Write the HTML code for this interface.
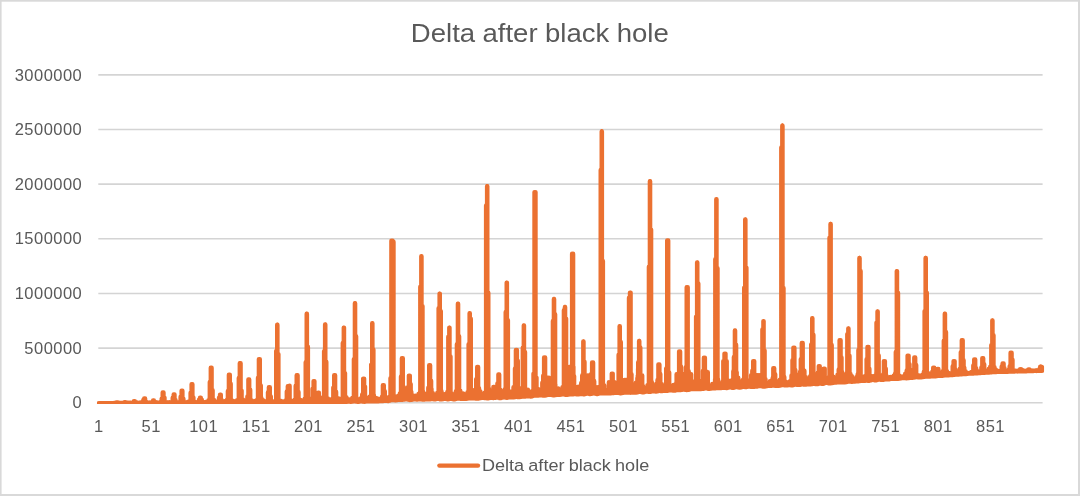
<!DOCTYPE html>
<html lang="en">
<head>
<meta charset="utf-8">
<title>Delta after black hole</title>
<style>
html,body{margin:0;padding:0;background:#fff;}
body{width:1080px;height:496px;overflow:hidden;}
svg{display:block;}
</style>
</head>
<body>
<svg width="1080" height="496" viewBox="0 0 1080 496">
<rect x="0" y="0" width="1080" height="496" fill="#ffffff"/>
<g fill="#d9d9d9"><rect x="0" y="0" width="1080" height="1.7"/><rect x="0" y="0" width="1.6" height="496"/><rect x="1078" y="0" width="2" height="496"/><rect x="0" y="494" width="1080" height="2"/></g>
<g stroke="#d4d4d4" stroke-width="1.6" fill="none">
<line x1="98.3" y1="402.75" x2="1042.6" y2="402.75"/>
<line x1="98.3" y1="348.10" x2="1042.6" y2="348.10"/>
<line x1="98.3" y1="293.45" x2="1042.6" y2="293.45"/>
<line x1="98.3" y1="238.80" x2="1042.6" y2="238.80"/>
<line x1="98.3" y1="184.15" x2="1042.6" y2="184.15"/>
<line x1="98.3" y1="129.50" x2="1042.6" y2="129.50"/>
<line x1="98.3" y1="74.85" x2="1042.6" y2="74.85"/>
</g>
<g font-family="'Liberation Sans', Arial, sans-serif" font-size="16.5" letter-spacing="0.46" fill="#595959">
<text x="82.2" y="408.40" text-anchor="end">0</text>
<text x="82.2" y="353.75" text-anchor="end">500000</text>
<text x="82.2" y="299.10" text-anchor="end">1000000</text>
<text x="82.2" y="244.45" text-anchor="end">1500000</text>
<text x="82.2" y="189.80" text-anchor="end">2000000</text>
<text x="82.2" y="135.15" text-anchor="end">2500000</text>
<text x="82.2" y="80.50" text-anchor="end">3000000</text>
<text x="98.72" y="431.9" text-anchor="middle">1</text>
<text x="151.19" y="431.9" text-anchor="middle">51</text>
<text x="203.65" y="431.9" text-anchor="middle">101</text>
<text x="256.11" y="431.9" text-anchor="middle">151</text>
<text x="308.57" y="431.9" text-anchor="middle">201</text>
<text x="361.03" y="431.9" text-anchor="middle">251</text>
<text x="413.49" y="431.9" text-anchor="middle">301</text>
<text x="465.95" y="431.9" text-anchor="middle">351</text>
<text x="518.41" y="431.9" text-anchor="middle">401</text>
<text x="570.87" y="431.9" text-anchor="middle">451</text>
<text x="623.34" y="431.9" text-anchor="middle">501</text>
<text x="675.80" y="431.9" text-anchor="middle">551</text>
<text x="728.26" y="431.9" text-anchor="middle">601</text>
<text x="780.72" y="431.9" text-anchor="middle">651</text>
<text x="833.18" y="431.9" text-anchor="middle">701</text>
<text x="885.64" y="431.9" text-anchor="middle">751</text>
<text x="938.10" y="431.9" text-anchor="middle">801</text>
<text x="990.56" y="431.9" text-anchor="middle">851</text>
</g>
<text transform="translate(410.8 41.9) scale(1 0.91)" x="0" y="0" font-family="'Liberation Sans', Arial, sans-serif" font-size="27.57" word-spacing="-0.3" fill="#595959">Delta after black hole</text>
<clipPath id="plot"><rect x="96.9" y="60" width="947.3" height="344"/></clipPath>
<polyline clip-path="url(#plot)" points="98.8,403.2 100.3,403.2 101.7,403.2 103.1,403.1 104.6,403.1 106,403.1 107.5,403.1 108.9,403.1 110.3,403.1 111.8,403.1 113.2,403.1 114.7,402.9 115.3,403.3 115.3,402.9 115.3,403.3 116.1,402.9 116.2,403.3 116.2,402.4 116.2,403.3 117.2,403.3 117.2,402.4 117.2,403.3 117.5,403.3 117.5,402.7 117.5,403.3 118.1,403.3 118.1,402.7 118.1,403.3 119,403.3 119,402.8 119,403.3 120.4,402.9 121.9,402.9 123.3,403.3 123.3,402.8 123.3,403.3 123.6,403.3 123.6,402.8 123.6,403.3 124.5,403.3 124.5,402.2 124.5,403.3 124.7,402.9 125.5,403.3 125.5,402.2 125.5,403.3 126.2,403.2 126.2,402.7 126.2,403.2 126.4,403.2 126.4,402.6 126.4,403.2 127.6,403.2 127.6,402.7 127.6,403.2 129.1,402.9 130.5,403.2 130.5,402.7 130.5,403.2 131.9,403.2 131.9,402.8 131.9,403.2 132.9,403.2 132.9,402.4 132.9,403.2 133.4,403.2 133.4,402.7 133.4,403.2 133.9,403.2 133.9,401.2 133.9,403.2 134.8,403.2 134.8,401.2 134.8,403.2 134.8,403.2 134.8,402.6 134.8,403.2 135.7,403.2 135.7,402 135.7,403.2 136.3,403.2 136.3,402.8 136.3,403.2 137.7,403.2 137.7,402.7 137.7,403.2 139.1,403.2 139.1,402.6 139.1,403.2 140.6,403.2 140.6,402.5 140.6,403.2 142,403.2 142,402.5 142,403.2 143.3,403.2 143.3,400 143.3,403.2 143.5,403.2 143.5,402.4 143.5,403.2 144.2,403.2 144.2,398.4 144.2,403.2 144.9,403.2 144.9,402.2 144.9,403.2 145.1,403.2 145.1,398.4 145.1,403.2 146.1,403.2 146.1,401.8 146.1,403.2 146.3,403.2 146.3,402.4 146.3,403.2 147.8,403.2 147.8,402.5 147.8,403.2 149.2,403.2 149.2,402.5 149.2,403.2 150.7,403.1 150.7,402.6 150.7,403.1 152.1,403.1 152.1,402 152.1,403.1 152.1,403.1 152.1,402.4 152.1,403.1 153.1,403.1 153.1,400.4 153.1,403.1 153.5,403.1 153.5,402.5 153.5,403.1 153.9,403.1 153.9,400.4 153.9,403.1 154.9,403.1 154.9,401.6 154.9,403.1 155,403.1 155,402.5 155,403.1 156.4,403.1 156.4,402.3 156.4,403.1 157.9,403.1 157.9,402.6 157.9,403.1 159.3,403.1 159.3,402.4 159.3,403.1 160.7,403.1 160.7,402.2 160.7,403.1 161.7,403.1 161.7,398.6 161.7,403.1 162.2,403.1 162.2,401.9 162.2,403.1 162.7,403.1 162.7,392.5 162.7,403.1 163.5,403.1 163.5,392.5 163.5,403.1 163.6,403.1 163.6,401.8 163.6,403.1 164.5,403.1 164.5,397.6 164.5,403.1 165.1,403.1 165.1,401.9 165.1,403.1 166.5,403.1 166.5,402.3 166.5,403.1 167.9,403.1 167.9,402.5 167.9,403.1 169.4,403.1 169.4,402.3 169.4,403.1 170.8,403.1 170.8,402.3 170.8,403.1 172.3,403.1 172.3,402.1 172.3,403.1 172.7,403.1 172.7,397.7 172.7,403.1 173.7,403 173.7,394.5 173.7,403 173.7,403 173.7,401.3 173.7,403 174.5,403 174.5,394.5 174.5,403 175.1,403 175.1,402 175.1,403 175.5,403 175.5,399.9 175.5,403 176.6,403 176.6,402.2 176.6,403 178,403 178,402.4 178,403 179.5,403 179.5,401.9 179.5,403 180.6,403 180.6,396.8 180.6,403 180.9,403 180.9,401.2 180.9,403 181.6,403 181.6,390.8 181.6,403 182.3,403 182.3,400.8 182.3,403 182.4,403 182.4,390.8 182.4,403 183.4,403 183.4,398.7 183.4,403 183.8,403 183.8,401.4 183.8,403 185.2,403 185.2,402.2 185.2,403 186.7,403 186.7,402.1 186.7,403 188.1,403 188.1,401.8 188.1,403 189.5,403 189.5,401.3 189.5,403 190.6,403 190.6,392.8 190.6,403 191,403 191,400.2 191,403 191.6,403 191.6,384.2 191.6,403 192.4,403 192.4,400.8 192.4,403 192.4,403 192.4,384.2 192.4,403 193.4,403 193.4,397.4 193.4,403 193.9,403 193.9,401.3 193.9,403 195.3,403 195.3,401.9 195.3,403 196.7,403 196.7,402.4 196.7,403 198.2,402.9 198.2,402.3 198.2,402.9 199,402.9 199,399.7 199,402.9 199.6,402.9 199.6,402 199.6,402.9 200,402.9 200,397.8 200,402.9 200.8,402.9 200.8,397.8 200.8,402.9 201.1,402.9 201.1,402.2 201.1,402.9 201.8,402.9 201.8,399.7 201.8,402.9 202.5,402.9 202.5,402.3 202.5,402.9 203.9,402.9 203.9,402.4 203.9,402.9 205.4,402.9 205.4,401.9 205.4,402.9 206.8,402.9 206.8,401.9 206.8,402.9 208.3,402.9 208.3,400.4 208.3,402.9 209.7,402.9 209.7,397.8 209.7,402.9 209.8,402.9 209.8,382 209.8,402.9 210.8,402.9 210.8,367.8 210.8,402.9 211.1,402.9 211.1,399 211.1,402.9 211.6,402.9 211.6,367.8 211.6,402.9 212.6,402.9 212.6,398.5 212.6,402.9 212.6,402.9 212.6,390.2 212.6,402.9 214,402.9 214,399.9 214,402.9 215.5,402.9 215.5,401.4 215.5,402.9 216.9,402.9 216.9,401.8 216.9,402.9 218.3,402.9 218.3,402 218.3,402.9 219,402.9 219,397.8 219,402.9 219.8,402.9 219.8,401.4 219.8,402.9 220,402.9 220,394.8 220,402.9 220.8,402.8 220.8,394.8 220.8,402.8 221.2,402.8 221.2,401.4 221.2,402.8 221.8,402.8 221.8,400.1 221.8,402.8 222.7,402.8 222.7,402 222.7,402.8 224.1,402.8 224.1,401.7 224.1,402.8 225.5,402.8 225.5,401 225.5,402.8 227,402.8 227,399.7 227,402.8 227.9,402.8 227.9,391 227.9,402.8 228.4,402.8 228.4,398.9 228.4,402.8 228.9,402.8 228.9,374.8 228.9,402.8 229.8,402.8 229.8,374.8 229.8,402.8 229.9,402.8 229.9,399.9 229.9,402.8 230.7,402.8 230.7,383.7 230.7,402.8 231.3,402.8 231.3,400.2 231.3,402.8 232.7,402.8 232.7,400.8 232.7,402.8 234.2,402.8 234.2,401.5 234.2,402.8 235.6,402.8 235.6,401.2 235.6,402.8 237.1,402.8 237.1,400.2 237.1,402.8 238.5,402.8 238.5,399.1 238.5,402.8 238.8,402.8 238.8,377.9 238.8,402.8 239.8,402.8 239.8,363.3 239.8,402.8 239.9,402.8 239.9,397.8 239.9,402.8 240.6,402.8 240.6,363.3 240.6,402.8 241.4,402.8 241.4,396.4 241.4,402.8 241.6,402.8 241.6,390.6 241.6,402.8 242.8,402.8 242.8,399.4 242.8,402.8 244.3,402.8 244.3,400.6 244.3,402.8 245.7,402.7 245.7,400.5 245.7,402.7 247.1,402.7 247.1,399.6 247.1,402.7 247.4,402.7 247.4,396.5 247.4,402.7 248.4,402.7 248.4,379.5 248.4,402.7 248.6,402.7 248.6,399.8 248.6,402.7 249.2,402.7 249.2,379.5 249.2,402.7 250,402.7 250,400 250,402.7 250.2,402.7 250.2,389.8 250.2,402.7 251.5,402.7 251.5,400.1 251.5,402.7 252.9,402.7 252.9,401.7 252.9,402.7 254.3,402.7 254.3,401.2 254.3,402.7 255.8,402.7 255.8,400.8 255.8,402.7 257.2,402.7 257.2,399.6 257.2,402.7 258,402.7 258,377.7 258,402.7 258.7,402.7 258.7,395.9 258.7,402.7 258.9,402.7 258.9,359.1 258.9,402.7 259.8,402.7 259.8,359.1 259.8,402.7 260.1,402.7 260.1,395.8 260.1,402.7 260.8,402.7 260.8,385.4 260.8,402.7 261.5,402.7 261.5,398.2 261.5,402.7 263,402.7 263,400.2 263,402.7 264.4,402.7 264.4,401.9 264.4,402.7 265.9,402.7 265.9,401.1 265.9,402.7 267.3,402.7 267.3,400.6 267.3,402.7 268,402.7 268,392.3 268,402.7 268.7,402.7 268.7,399.8 268.7,402.7 268.9,402.7 268.9,387.3 268.9,402.7 269.8,402.6 269.8,387.3 269.8,402.6 270.2,402.6 270.2,400.8 270.2,402.6 270.8,402.6 270.8,396.5 270.8,402.6 271.6,402.6 271.6,401.2 271.6,402.6 273.1,402.6 273.1,401.6 273.1,402.6 274.5,402.6 274.5,401.1 274.5,402.6 275.9,402.6 275.9,399.9 275.9,402.6 276.2,402.6 276.2,351 276.2,402.6 277.2,402.6 277.2,324.8 277.2,402.6 277.4,402.6 277.4,398.5 277.4,402.6 277.4,402.6 277.4,324.8 277.4,402.6 278.4,402.6 278.4,354.1 278.4,402.6 278.8,402.6 278.8,399.8 278.8,402.6 280.3,402.6 280.3,400.6 280.3,402.6 281.7,402.6 281.7,401.3 281.7,402.6 283.1,402.5 283.1,401.9 283.1,402.5 284.6,402.5 284.6,401.3 284.6,402.5 286,402.5 286,400.3 286,402.5 286.8,402.5 286.8,391.5 286.8,402.5 287.5,402.5 287.5,399.9 287.5,402.5 287.8,402.5 287.8,386.3 287.8,402.5 288.6,402.5 288.6,386.3 288.6,402.5 288.9,402.4 288.9,399.7 288.9,402.4 289.6,402.4 289.6,385.7 289.6,402.4 290.3,402.4 290.3,400.5 290.3,402.4 291.8,402.5 291.8,401 291.8,402.5 293.2,402.4 293.2,400.7 293.2,402.4 294.7,402.3 294.7,399.8 294.7,402.3 295.7,402.3 295.7,385.7 295.7,402.3 296.1,402.3 296.1,397.9 296.1,402.3 296.7,402.4 296.7,375.3 296.7,402.4 297.5,402.4 297.5,396.5 297.5,402.4 297.6,402.4 297.6,375.3 297.6,402.4 298.5,402.5 298.5,391.9 298.5,402.5 299,402.4 299,398.8 299,402.4 300.4,402.3 300.4,400 300.4,402.3 301.9,402.1 301.9,400.9 301.9,402.1 303.3,402.2 303.3,400.4 303.3,402.2 304.7,402.3 304.7,398.6 304.7,402.3 305.7,402.3 305.7,362.3 305.7,402.3 306.2,402.3 306.2,396.4 306.2,402.3 306.7,402.3 306.7,313.7 306.7,402.3 306.9,402.2 306.9,313.7 306.9,402.2 307.6,402.2 307.6,397.7 307.6,402.2 307.9,402.2 307.9,346.7 307.9,402.2 309.1,402.2 309.1,398.4 309.1,402.2 310.5,402.3 310.5,400.4 310.5,402.3 311.9,402.3 311.9,399.9 311.9,402.3 312.6,402.2 312.6,388.7 312.6,402.2 313.4,402.1 313.4,397.1 313.4,402.1 313.6,402.1 313.6,381.1 313.6,402.1 314.4,402 314.4,381.1 314.4,402 314.8,401.9 314.8,398.9 314.8,401.9 315.4,401.9 315.4,396.3 315.4,401.9 316.3,402 316.3,399.8 316.3,402 317.1,402.1 317.1,399.5 317.1,402.1 317.7,402.1 317.7,399.6 317.7,402.1 318.1,402.1 318.1,392.8 318.1,402.1 318.9,402.1 318.9,392.8 318.9,402.1 319.1,402.1 319.1,400 319.1,402.1 319.9,402.1 319.9,397.2 319.9,402.1 320.6,402.1 320.6,399.7 320.6,402.1 322,402.1 322,399.8 322,402.1 323.5,402 323.5,397.5 323.5,402 324.1,401.9 324.1,351.2 324.1,401.9 324.9,401.9 324.9,396.3 324.9,401.9 325.1,401.9 325.1,324.4 325.1,401.9 325.3,401.9 325.3,324.4 325.3,401.9 326.3,401.8 326.3,361.7 326.3,401.8 326.3,401.8 326.3,398.7 326.3,401.8 327.8,401.9 327.8,398.5 327.8,401.9 329.2,401.9 329.2,400.2 329.2,401.9 330.7,401.9 330.7,399.5 330.7,401.9 332.1,401.9 332.1,399.1 332.1,401.9 333.3,402 333.3,387.6 333.3,402 333.5,402 333.5,398 333.5,402 334.2,402 334.2,375.3 334.2,402 335,401.9 335,396.2 335,401.9 335.1,401.9 335.1,375.3 335.1,401.9 336.1,401.8 336.1,391.8 336.1,401.8 336.4,401.8 336.4,397.2 336.4,401.8 337.9,401.7 337.9,398.1 337.9,401.7 339.3,401.6 339.3,400.3 339.3,401.6 340.7,401.7 340.7,398.6 340.7,401.7 342.2,401.8 342.2,398.5 342.2,401.8 342.8,401.8 342.8,342.9 342.8,401.8 343.6,401.8 343.6,395.8 343.6,401.8 343.8,401.8 343.8,327.6 343.8,401.8 344,401.8 344,327.6 344,401.8 345,401.8 345,373.1 345,401.8 345.1,401.8 345.1,395 345.1,401.8 346.5,401.7 346.5,397.4 346.5,401.7 347.9,401.5 347.9,399.3 347.9,401.5 349.4,401.6 349.4,400.6 349.4,401.6 350.8,401.7 350.8,399.1 350.8,401.7 352.3,401.6 352.3,398 352.3,401.6 353.7,401.4 353.7,397.1 353.7,401.4 353.9,401.4 353.9,359.1 353.9,401.4 354.9,401.4 354.9,303.2 354.9,401.4 355.1,401.4 355.1,303.2 355.1,401.4 355.1,401.4 355.1,394.7 355.1,401.4 356.1,401.5 356.1,336.2 356.1,401.5 356.6,401.6 356.6,397.8 356.6,401.6 358,401.8 358,399.2 358,401.8 359.5,401.5 359.5,399.8 359.5,401.5 360.9,401.2 360.9,398.3 360.9,401.2 362.2,401.3 362.2,394.4 362.2,401.3 362.3,401.4 362.3,397.1 362.3,401.4 363.2,401.5 363.2,378.6 363.2,401.5 363.8,401.6 363.8,396.7 363.8,401.6 364.1,401.7 364.1,378.6 364.1,401.7 365,401.6 365,386.6 365,401.6 365.2,401.6 365.2,397.9 365.2,401.6 366.7,401.2 366.7,398 366.7,401.2 368.1,401.1 368.1,399 368.1,401.1 369.5,401.3 369.5,396.8 369.5,401.3 371,401.4 371,395.6 371,401.4 371.2,401.4 371.2,364.6 371.2,401.4 372.2,401.3 372.2,323.2 372.2,401.3 372.4,401.3 372.4,323.2 372.4,401.3 372.4,401.3 372.4,394.4 372.4,401.3 373.4,401.3 373.4,349.4 373.4,401.3 373.9,401.3 373.9,395.1 373.9,401.3 375.3,401.4 375.3,398 375.3,401.4 376.7,401.4 376.7,398.3 376.7,401.4 378.2,401.2 378.2,398.7 378.2,401.2 379.6,401 379.6,399.2 379.6,401 381.1,401 381.1,398.7 381.1,401 382,401.1 382,396.6 382,401.1 382.5,401 382.5,395.8 382.5,401 382.9,401 382.9,385.3 382.9,401 383.8,400.9 383.8,385.3 383.8,400.9 383.9,400.9 383.9,397.1 383.9,400.9 384.8,400.7 384.8,391.2 384.8,400.7 385.4,400.7 385.4,396.5 385.4,400.7 386.8,400.9 386.8,397.5 386.8,400.9 388.3,401 388.3,398.2 388.3,401 389.7,400.6 389.7,396.7 389.7,400.6 390.5,400.3 390.5,378.1 390.5,400.3 391.1,400 391.1,394.4 391.1,400 391.4,400 391.4,240.7 391.4,400 392.6,399.9 392.6,240.7 392.6,399.9 392.6,399.9 392.6,390.5 392.6,399.9 393.5,400 393.5,241.7 393.5,400 394,400.1 394,395.7 394,400.1 395.5,400.2 395.5,396.4 395.5,400.2 396.9,400.1 396.9,397.8 396.9,400.1 398.3,399.9 398.3,395.9 398.3,399.9 399.8,399.8 399.8,393.5 399.8,399.8 401,399.9 401,376.4 401,399.9 401.2,399.8 401.2,391.8 401.2,399.8 401.9,399.8 401.9,358.2 401.9,399.8 402.7,399.7 402.7,389.4 402.7,399.7 402.8,399.7 402.8,358.2 402.8,399.7 403.8,399.5 403.8,387.1 403.8,399.5 404.1,399.5 404.1,392.4 404.1,399.5 405.5,399.3 405.5,393.9 405.5,399.3 407,399.4 407,393.4 407,399.4 407.9,399.5 407.9,387.1 407.9,399.5 408.4,399.6 408.4,390.8 408.4,399.6 408.9,399.7 408.9,375.6 408.9,399.7 409.8,399.8 409.8,375.6 409.8,399.8 409.9,399.9 409.9,391.9 409.9,399.9 410.7,399.9 410.7,384.1 410.7,399.9 411.3,399.8 411.3,391.7 411.3,399.8 412.7,399.5 412.7,395.4 412.7,399.5 414.2,399.2 414.2,396.4 414.2,399.2 415.6,399.3 415.6,395.8 415.6,399.3 417.1,399.5 417.1,395.6 417.1,399.5 418.5,399.4 418.5,394 418.5,399.4 419.9,399.2 419.9,392.3 419.9,399.2 420.3,399.2 420.3,286.8 420.3,399.2 421.3,399.3 421.3,256.2 421.3,399.3 421.4,399.3 421.4,387.9 421.4,399.3 421.5,399.3 421.5,256.2 421.5,399.3 422.5,399.5 422.5,306.1 422.5,399.5 422.8,399.5 422.8,390.7 422.8,399.5 424.3,399.5 424.3,393.5 424.3,399.5 425.7,399.2 425.7,395.8 425.7,399.2 427.1,399.1 427.1,393.5 427.1,399.1 428.3,399.2 428.3,387.8 428.3,399.2 428.6,399.2 428.6,391 428.6,399.2 429.2,399.2 429.2,365.3 429.2,399.2 430,399.2 430,385.5 430,399.2 430.1,399.2 430.1,365.3 430.1,399.2 431.1,399.1 431.1,380.7 431.1,399.1 431.5,399.1 431.5,388.8 431.5,399.1 432.9,399.1 432.9,393.2 432.9,399.1 434.3,399.3 434.3,396.3 434.3,399.3 435.8,399.2 435.8,395.3 435.8,399.2 437.2,398.9 437.2,392.9 437.2,398.9 438.6,398.9 438.6,308.3 438.6,398.9 438.7,398.9 438.7,389.6 438.7,398.9 439.6,399.1 439.6,293.6 439.6,399.1 439.8,399.2 439.8,293.6 439.8,399.2 440.1,399.3 440.1,392.3 440.1,399.3 440.8,399.4 440.8,311.1 440.8,399.4 441.5,399.4 441.5,391.2 441.5,399.4 443,399.1 443,394.2 443,399.1 444.4,398.7 444.4,394.2 444.4,398.7 445.9,398.8 445.9,394.7 445.9,398.8 447.3,399.2 447.3,392 447.3,399.2 448.3,399.2 448.3,336.7 448.3,399.2 448.7,399.1 448.7,392.3 448.7,399.1 449.3,399 449.3,327.6 449.3,399 449.5,398.9 449.5,327.6 449.5,398.9 450.2,398.8 450.2,391.4 450.2,398.8 450.5,398.7 450.5,356.4 450.5,398.7 451.6,398.8 451.6,393.4 451.6,398.8 453.1,399.2 453.1,395.3 453.1,399.2 454.5,399.3 454.5,394.4 454.5,399.3 455.9,398.9 455.9,391.3 455.9,398.9 456.9,398.6 456.9,344.3 456.9,398.6 457.4,398.5 457.4,389.2 457.4,398.5 457.9,398.4 457.9,303.7 457.9,398.4 458.1,398.4 458.1,303.7 458.1,398.4 458.8,398.5 458.8,389.9 458.8,398.5 459.1,398.5 459.1,336.3 459.1,398.5 460.3,398.7 460.3,390.8 460.3,398.7 461.7,398.8 461.7,394 461.7,398.8 463.1,398.8 463.1,393.4 463.1,398.8 464.6,398.8 464.6,396.8 464.6,398.8 466,398.8 466,394.2 466,398.8 467.5,398.6 467.5,392.3 467.5,398.6 468.6,398.4 468.6,344.3 468.6,398.4 468.9,398.4 468.9,391.1 468.9,398.4 469.6,398.3 469.6,313.2 469.6,398.3 469.8,398.3 469.8,313.2 469.8,398.3 470.3,398.3 470.3,390.8 470.3,398.3 470.8,398.3 470.8,318.7 470.8,398.3 471.8,398.3 471.8,393.3 471.8,398.3 473.2,398.3 473.2,393.3 473.2,398.3 474.7,398.3 474.7,389.9 474.7,398.3 476.1,398.5 476.1,389.7 476.1,398.5 476.2,398.5 476.2,379.1 476.2,398.5 477.2,398.6 477.2,366.9 477.2,398.6 477.5,398.6 477.5,384.3 477.5,398.6 478.1,398.6 478.1,366.9 478.1,398.6 479,398.4 479,391 479,398.4 479,398.4 479,388.1 479,398.4 480.4,398.1 480.4,391.4 480.4,398.1 481.9,397.9 481.9,395 481.9,397.9 483.3,397.9 483.3,394.7 483.3,397.9 484.7,398 484.7,392.6 484.7,398 486.1,398.1 486.1,205.4 486.1,398.1 486.2,398.1 486.2,387.4 486.2,398.1 487.1,398.2 487.1,186.3 487.1,398.2 487.3,398.2 487.3,186.3 487.3,398.2 487.6,398.2 487.6,385.4 487.6,398.2 488.3,398.2 488.3,292.7 488.3,398.2 489.1,398.1 489.1,389 489.1,398.1 490.5,397.9 490.5,393.9 490.5,397.9 491.9,397.9 491.9,393.3 491.9,397.9 492.4,397.9 492.4,394.5 492.4,397.9 493.4,398 493.4,387 493.4,398 493.4,398 493.4,394.6 493.4,398 494.2,397.9 494.2,387 494.2,397.9 494.8,397.8 494.8,392.9 494.8,397.8 495.2,397.8 495.2,391 495.2,397.8 496.3,397.5 496.3,391.5 496.3,397.5 497.4,397.5 497.4,383.5 497.4,397.5 497.7,397.5 497.7,390 497.7,397.5 498.4,397.6 498.4,374.5 498.4,397.6 499.1,397.9 499.1,385.3 499.1,397.9 499.2,397.9 499.2,374.5 499.2,397.9 500.2,398.1 500.2,390.6 500.2,398.1 500.6,398.1 500.6,389.9 500.6,398.1 502,397.7 502,391.3 502,397.7 503.5,397.3 503.5,392.1 503.5,397.3 504.9,397.3 504.9,389.2 504.9,397.3 505.7,397.5 505.7,311.9 505.7,397.5 506.3,397.6 506.3,389 506.3,397.6 506.7,397.7 506.7,282.6 506.7,397.7 506.9,397.7 506.9,282.6 506.9,397.7 507.8,397.6 507.8,386.1 507.8,397.6 507.9,397.6 507.9,320.2 507.9,397.6 509.2,397.2 509.2,391.3 509.2,397.2 510.7,397 510.7,393.4 510.7,397 512.1,397.2 512.1,391.5 512.1,397.2 513.5,397.3 513.5,387.3 513.5,397.3 515,397 515,382.9 515,397 515,397 515,368.4 515,397 515.9,396.8 515.9,349.9 515.9,396.8 516.4,396.8 516.4,382.8 516.4,396.8 516.9,396.8 516.9,349.9 516.9,396.8 517.8,397 517.8,360.8 517.8,397 517.9,397 517.9,386.1 517.9,397 519.3,397.1 519.3,388.2 519.3,397.1 520.7,396.8 520.7,390.2 520.7,396.8 522.2,396.5 522.2,390.7 522.2,396.5 522.8,396.5 522.8,347.8 522.8,396.5 523.6,396.5 523.6,387.4 523.6,396.5 523.8,396.5 523.8,325.4 523.8,396.5 524,396.5 524,325.4 524,396.5 525,396.5 525,352 525,396.5 525.1,396.5 525.1,389.4 525.1,396.5 526.5,396.2 526.5,390.4 526.5,396.2 527.9,396 527.9,389.7 527.9,396 529.4,396.2 529.4,391.9 529.4,396.2 530.8,396.5 530.8,391.8 530.8,396.5 532.3,396.2 532.3,391 532.3,396.2 533.5,395.7 533.5,373.6 533.5,395.7 533.7,395.7 533.7,388.8 533.7,395.7 534.5,395.5 534.5,192.1 534.5,395.5 535.1,395.4 535.1,387.9 535.1,395.4 535.5,395.4 535.5,192.1 535.5,395.4 536.5,395.5 536.5,377.6 536.5,395.5 536.6,395.5 536.6,387.3 536.6,395.5 538,395.6 538,389 538,395.6 539.5,395.4 539.5,391.8 539.5,395.4 540.9,395.3 540.9,389.8 540.9,395.3 542.3,395.4 542.3,382.8 542.3,395.4 543.2,395.6 543.2,375.8 543.2,395.6 543.3,395.6 543.3,377.8 543.3,395.6 543.8,395.6 543.8,385.2 543.8,395.6 544.1,395.6 544.1,357.4 544.1,395.6 544.4,395.6 544.4,377.8 544.4,395.6 545.1,395.5 545.1,357.4 545.1,395.5 545.2,395.5 545.2,377.9 545.2,395.5 545.5,395.4 545.5,377.8 545.5,395.4 546,395.3 546,384.5 546,395.3 546.7,395.1 546.7,377.8 546.7,395.1 546.7,395.1 546.7,384.6 546.7,395.1 547.8,394.9 547.8,377.8 547.8,394.9 548.1,394.8 548.1,389.8 548.1,394.8 548.9,394.7 548.9,377.8 548.9,394.7 549.5,394.8 549.5,390.8 549.5,394.8 551,394.9 551,388.4 551,394.9 552.4,395.1 552.4,389.2 552.4,395.1 552.9,395.2 552.9,320.9 552.9,395.2 553.9,395.2 553.9,384.3 553.9,395.2 553.9,395.2 553.9,299 553.9,395.2 554.1,395.2 554.1,299 554.1,395.2 555.1,395.1 555.1,314.2 555.1,395.1 555.3,395 555.3,384.3 555.3,395 556.7,394.8 556.7,388.8 556.7,394.8 558.2,394.7 558.2,388.5 558.2,394.7 559.6,394.8 559.6,389.5 559.6,394.8 561.1,394.6 561.1,390.9 561.1,394.6 562.5,394.4 562.5,387.1 562.5,394.4 563.9,394.4 563.9,310.2 563.9,394.4 563.9,394.4 563.9,387 563.9,394.4 564.9,394.6 564.9,307 564.9,394.6 565.1,394.6 565.1,307 565.1,394.6 565.4,394.7 565.4,386.2 565.4,394.7 566.1,394.8 566.1,318.6 566.1,394.8 566.8,394.8 566.8,386.3 566.8,394.8 568.3,394.5 568.3,391.2 568.3,394.5 569.7,394.3 569.7,388.9 569.7,394.3 570,394.3 570,366.6 570,394.3 571.1,394.3 571.1,366.6 571.1,394.3 571.1,394.3 571.1,388.8 571.1,394.3 571.1,394.3 571.1,372.1 571.1,394.3 572.1,394.3 572.1,253.8 572.1,394.3 572.3,394.3 572.3,366.6 572.3,394.3 572.6,394.3 572.6,383.9 572.6,394.3 573.1,394.2 573.1,253.8 573.1,394.2 573.4,394.2 573.4,366.6 573.4,394.2 574,394.1 574,385.5 574,394.1 574.1,394.1 574.1,376.1 574.1,394.1 575.5,394.1 575.5,387.1 575.5,394.1 576.9,394.3 576.9,390.5 576.9,394.3 578.3,394.3 578.3,386.6 578.3,394.3 579.8,394 579.8,387.9 579.8,394 581.2,393.8 581.2,382.9 581.2,393.8 582.2,394 582.2,375.5 582.2,394 582.3,394 582.3,375.2 582.3,394 582.7,394.1 582.7,379 582.7,394.1 583.3,394.2 583.3,341.5 583.3,394.2 583.3,394.2 583.3,375.5 583.3,394.2 583.5,394.2 583.5,341.5 583.5,394.2 584.1,394.2 584.1,376.3 584.1,394.2 584.4,394.2 584.4,375.5 584.4,394.2 584.5,394.2 584.5,361.8 584.5,394.2 585.5,393.9 585.5,375.5 585.5,393.9 585.5,393.9 585.5,384.7 585.5,393.9 586.6,393.6 586.6,375.5 586.6,393.6 587,393.5 587,388 587,393.5 587.8,393.5 587.8,375.5 587.8,393.5 588.4,393.6 588.4,389.2 588.4,393.6 588.9,393.8 588.9,375.5 588.9,393.8 589.9,394 589.9,385.1 589.9,394 590,394 590,375.5 590,394 591.1,393.9 591.1,375.5 591.1,393.9 591.2,393.9 591.2,374 591.2,393.9 591.3,393.9 591.3,382.8 591.3,393.9 592.1,393.6 592.1,362.4 592.1,393.6 592.2,393.6 592.2,375.5 592.2,393.6 592.7,393.4 592.7,375.6 592.7,393.4 593.1,393.3 593.1,362.4 593.1,393.3 594,393.3 594,380.6 594,393.3 594.2,393.3 594.2,381.3 594.2,393.3 595.6,393.7 595.6,388.3 595.6,393.7 597.1,394 597.1,387.2 597.1,394 598.5,393.7 598.5,388.6 598.5,393.7 599.9,393.2 599.9,386.7 599.9,393.2 600.7,393.2 600.7,169.9 600.7,393.2 601.4,393.2 601.4,380.6 601.4,393.2 601.7,393.2 601.7,131.5 601.7,393.2 601.9,393.2 601.9,131.5 601.9,393.2 602.8,393.3 602.8,385.2 602.8,393.3 602.9,393.3 602.9,260.9 602.9,393.3 604.3,393.3 604.3,385.5 604.3,393.3 605.7,393.2 605.7,390.2 605.7,393.2 607.1,393.3 607.1,390.6 607.1,393.3 608.6,393.4 608.6,388.8 608.6,393.4 608.9,393.4 608.9,382.2 608.9,393.4 610,393.4 610,382.2 610,393.4 610,393.4 610,386.3 610,393.4 610.8,393.2 610.8,382.1 610.8,393.2 611.1,393.2 611.1,382.2 611.1,393.2 611.5,393.1 611.5,383.2 611.5,393.1 611.8,393.1 611.8,373.6 611.8,393.1 612.3,393 612.3,382.2 612.3,393 612.7,393 612.7,373.6 612.7,393 612.9,393 612.9,386.9 612.9,393 613.4,393 613.4,382.2 613.4,393 613.6,393 613.6,384.8 613.6,393 614.3,392.9 614.3,386 614.3,392.9 614.5,392.9 614.5,382.2 614.5,392.9 615.8,392.8 615.8,389.4 615.8,392.8 617.2,392.7 617.2,387.6 617.2,392.7 618.6,392.9 618.6,354.8 618.6,392.9 618.7,392.9 618.7,387 618.7,392.9 619.6,393.1 619.6,326.3 619.6,393.1 619.8,393.1 619.8,326.3 619.8,393.1 620.1,393.2 620.1,383.9 620.1,393.2 620.8,393.2 620.8,342 620.8,393.2 621.5,393.1 621.5,385.7 621.5,393.1 623,392.8 623,385.6 623,392.8 624.4,392.6 624.4,380 624.4,392.6 624.4,392.6 624.4,388.6 624.4,392.6 625.5,392.5 625.5,380 625.5,392.5 625.9,392.5 625.9,386.3 625.9,392.5 626.7,392.5 626.7,380 626.7,392.5 627.3,392.5 627.3,387.7 627.3,392.5 628.7,392.5 628.7,382.8 628.7,392.5 629,392.5 629,297.7 629,392.5 630,392.5 630,292.6 630,392.5 630.2,392.6 630.2,383 630.2,392.6 630.6,392.6 630.6,292.6 630.6,392.6 631.5,392.6 631.5,374.3 631.5,392.6 631.6,392.6 631.6,385.8 631.6,392.6 633.1,392.6 633.1,386 633.1,392.6 634.5,392.6 634.5,386.4 634.5,392.6 635.9,392.5 635.9,382.7 635.9,392.5 637.4,392.3 637.4,378 637.4,392.3 637.8,392.2 637.8,375.5 637.8,392.2 638.1,392.1 638.1,368.8 638.1,392.1 638.2,392 638.2,362.2 638.2,392 638.8,391.9 638.8,377 638.8,391.9 638.9,391.9 638.9,375.5 638.9,391.9 639,391.9 639,362.2 639,391.9 639.1,391.8 639.1,341 639.1,391.8 639.3,391.8 639.3,341 639.3,391.8 639.8,391.8 639.8,362.2 639.8,391.8 640,391.8 640,375.5 640,391.8 640.3,391.8 640.3,373 640.3,391.8 640.3,391.8 640.3,347.4 640.3,391.8 641.1,391.9 641.1,375.5 641.1,391.9 641.7,392.1 641.7,383.6 641.7,392.1 642.2,392.2 642.2,375.5 642.2,392.2 643.1,392.3 643.1,386.2 643.1,392.3 644.6,392 644.6,388.3 644.6,392 646,391.6 646,388.2 646,391.6 647.5,391.6 647.5,385.1 647.5,391.6 648.9,391.8 648.9,384.9 648.9,391.8 648.9,391.8 648.9,266.8 648.9,391.8 649.9,391.8 649.9,181.2 649.9,391.8 650.1,391.8 650.1,181.2 650.1,391.8 650.3,391.8 650.3,381.7 650.3,391.8 651.1,391.6 651.1,229.6 651.1,391.6 651.8,391.3 651.8,382 651.8,391.3 653.2,391.1 653.2,387.4 653.2,391.1 654.7,391.3 654.7,387.1 654.7,391.3 656.1,391.5 656.1,384 656.1,391.5 656.6,391.4 656.6,384.4 656.6,391.4 657.5,391.2 657.5,380.4 657.5,391.2 657.5,391.2 657.5,380 657.5,391.2 657.7,391.1 657.7,384.4 657.7,391.1 658.4,391 658.4,364.4 658.4,391 658.9,390.9 658.9,384.4 658.9,390.9 659,390.9 659,378.3 659,390.9 659.4,390.9 659.4,364.4 659.4,390.9 660,390.9 660,384.4 660,390.9 660.3,390.9 660.3,373.9 660.3,390.9 660.4,391 660.4,383.2 660.4,391 661.9,391.1 661.9,384.2 661.9,391.1 663.3,390.9 663.3,388.2 663.3,390.9 664.7,390.7 664.7,387.1 664.7,390.7 666.2,390.7 666.2,382.6 666.2,390.7 666.2,390.7 666.2,368.4 666.2,390.7 667.2,390.7 667.2,240.5 667.2,390.7 667.6,390.7 667.6,376.7 667.6,390.7 668.2,390.6 668.2,240.5 668.2,390.6 669.1,390.4 669.1,379.9 669.1,390.4 669.2,390.4 669.2,372.4 669.2,390.4 670.5,390.1 670.5,386.5 670.5,390.1 671.9,390.3 671.9,387.8 671.9,390.3 673.4,390.6 673.4,385 673.4,390.6 674.8,390.6 674.8,386.1 674.8,390.6 676.3,390.1 676.3,382.6 676.3,390.1 676.6,390 676.6,374.2 676.6,390 677.7,389.8 677.7,376.7 677.7,389.8 677.7,389.8 677.7,374.2 677.7,389.8 678.2,389.9 678.2,379.7 678.2,389.9 678.8,389.9 678.8,374.2 678.8,389.9 679.1,390 679.1,372.3 679.1,390 679.1,390 679.1,351.5 679.1,390 679.9,390 679.9,374.2 679.9,390 680.1,390 680.1,351.5 680.1,390 680.6,390 680.6,372.4 680.6,390 681,389.9 681,366.4 681,389.9 681.1,389.9 681.1,374.2 681.1,389.9 682,389.7 682,379.6 682,389.7 682.2,389.6 682.2,374.2 682.2,389.6 683.3,389.4 683.3,374.2 683.3,389.4 683.5,389.4 683.5,383.6 683.5,389.4 684.4,389.5 684.4,374.2 684.4,389.5 684.9,389.6 684.9,384.4 684.9,389.6 685.5,389.8 685.5,374.2 685.5,389.8 685.8,389.8 685.8,367.3 685.8,389.8 686.3,389.9 686.3,378.2 686.3,389.9 686.6,390 686.6,374.2 686.6,390 686.7,390 686.7,287.3 686.7,390 687.7,389.9 687.7,287.3 687.7,389.9 687.8,389.9 687.8,374.2 687.8,389.9 687.8,389.9 687.8,381 687.8,389.9 688.7,389.7 688.7,371.3 688.7,389.7 688.9,389.6 688.9,374.2 688.9,389.6 689.2,389.5 689.2,380.4 689.2,389.5 690,389.3 690,374.2 690,389.3 690.7,389.1 690.7,385.1 690.7,389.1 691.1,389.1 691.1,374.2 691.1,389.1 692.1,389 692.1,383.8 692.1,389 693.5,389 693.5,382.9 693.5,389 695,389.1 695,381.3 695,389.1 696.1,389.1 696.1,316.7 696.1,389.1 696.4,389.1 696.4,377.3 696.4,389.1 697.1,389.1 697.1,262.5 697.1,389.1 697.3,389.1 697.3,262.5 697.3,389.1 697.9,389.1 697.9,380.8 697.9,389.1 698.3,389.1 698.3,283.5 698.3,389.1 699.3,389 699.3,383.6 699.3,389 700.7,389 700.7,382.7 700.7,389 702.2,388.9 702.2,380.6 702.2,388.9 703,388.8 703,370.7 703,388.8 703.3,388.8 703.3,372.2 703.3,388.8 703.6,388.7 703.6,374.4 703.6,388.7 703.9,388.6 703.9,357.7 703.9,388.6 704.4,388.5 704.4,372.2 704.4,388.5 704.9,388.4 704.9,357.7 704.9,388.4 705.1,388.4 705.1,379.5 705.1,388.4 705.5,388.3 705.5,372.2 705.5,388.3 705.8,388.3 705.8,371.2 705.8,388.3 706.5,388.3 706.5,379.2 706.5,388.3 706.7,388.3 706.7,372.2 706.7,388.3 707.8,388.5 707.8,372.2 707.8,388.5 707.9,388.6 707.9,383.9 707.9,388.6 709.4,388.7 709.4,386 709.4,388.7 710.8,388.6 710.8,385.4 710.8,388.6 712.3,388.4 712.3,384 712.3,388.4 713.7,388.3 713.7,384.5 713.7,388.3 715.1,388.2 715.1,379 715.1,388.2 715.3,388.2 715.3,259.2 715.3,388.2 716.3,388.1 716.3,199.2 716.3,388.1 716.5,388.1 716.5,199.2 716.5,388.1 716.6,388 716.6,379.1 716.6,388 717.5,388 717.5,268.2 717.5,388 718,388 718,379.1 718,388 719.5,388.1 719.5,384 719.5,388.1 720.9,388.1 720.9,383.8 720.9,388.1 722.3,387.9 722.3,382 722.3,387.9 723.3,387.8 723.3,361.1 723.3,387.8 723.6,387.8 723.6,377.8 723.6,387.8 723.8,387.7 723.8,374.2 723.8,387.7 724.4,387.8 724.4,361.1 724.4,387.8 724.5,387.8 724.5,353.6 724.5,387.8 725.2,387.9 725.2,375.1 725.2,387.9 725.5,387.9 725.5,353.6 725.5,387.9 725.6,387.9 725.6,361.1 725.6,387.9 726.4,388 726.4,362.2 726.4,388 726.7,388 726.7,373.7 726.7,388 726.7,388 726.7,361.1 726.7,388 728.1,387.7 728.1,380.5 728.1,387.7 729.5,387.3 729.5,384.4 729.5,387.3 731,387.4 731,380.9 731,387.4 732.4,387.8 732.4,379.7 732.4,387.8 733.3,387.8 733.3,371.2 733.3,387.8 733.9,387.7 733.9,375.8 733.9,387.7 733.9,387.7 733.9,356.9 733.9,387.7 734.5,387.5 734.5,371.2 734.5,387.5 734.9,387.3 734.9,330.5 734.9,387.3 735.1,387.2 735.1,330.5 735.1,387.2 735.3,387.2 735.3,365.6 735.3,387.2 735.6,387.1 735.6,371.2 735.6,387.1 736.1,387 736.1,344.7 736.1,387 736.7,386.9 736.7,372.2 736.7,386.9 738.2,387.3 738.2,377.6 738.2,387.3 739.6,387.6 739.6,383.7 739.6,387.6 741.1,387.3 741.1,384.4 741.1,387.3 742.5,386.9 742.5,380.3 742.5,386.9 743.9,386.9 743.9,378.3 743.9,386.9 744.2,386.9 744.2,287.7 744.2,386.9 745.2,387 745.2,219.5 745.2,387 745.4,387 745.4,376.4 745.4,387 745.4,387 745.4,219.5 745.4,387 746.4,387 746.4,267.6 746.4,387 746.8,386.9 746.8,380.2 746.8,386.9 748.3,386.6 748.3,380.4 748.3,386.6 749.7,386.6 749.7,382.8 749.7,386.6 751.1,386.8 751.1,375.2 751.1,386.8 751.1,386.8 751.1,381.5 751.1,386.8 752.2,386.9 752.2,375.2 752.2,386.9 752.3,386.9 752.3,370.7 752.3,386.9 752.6,386.9 752.6,374.7 752.6,386.9 753.2,386.8 753.2,361.1 753.2,386.8 753.3,386.8 753.3,375.2 753.3,386.8 754,386.7 754,375.8 754,386.7 754.2,386.7 754.2,361.1 754.2,386.7 754.5,386.7 754.5,375.2 754.5,386.7 755.1,386.6 755.1,379.2 755.1,386.6 755.5,386.6 755.5,376.4 755.5,386.6 755.6,386.6 755.6,375.2 755.6,386.6 756.7,386.5 756.7,375.2 756.7,386.5 756.9,386.5 756.9,380.2 756.9,386.5 757.8,386.3 757.8,375.2 757.8,386.3 758.3,386.2 758.3,382.5 758.3,386.2 758.9,386.1 758.9,375.2 758.9,386.1 759.8,386 759.8,382.1 759.8,386 760,386 760,375.2 760,386 761.1,386.1 761.1,375.2 761.1,386.1 761.2,386.1 761.2,380.3 761.2,386.1 762.3,386.3 762.3,375.2 762.3,386.3 762.4,386.3 762.4,329.4 762.4,386.3 762.7,386.4 762.7,375.2 762.7,386.4 763.4,386.5 763.4,321.1 763.4,386.5 763.4,386.5 763.4,375.2 763.4,386.5 763.6,386.5 763.6,321.1 763.6,386.5 764.1,386.5 764.1,378.4 764.1,386.5 764.5,386.5 764.5,375.2 764.5,386.5 764.6,386.5 764.6,350.4 764.6,386.5 765.5,386.3 765.5,379.2 765.5,386.3 767,386 767,383 767,386 768.4,385.9 768.4,383.5 768.4,385.9 769.9,385.9 769.9,381.3 769.9,385.9 771.3,385.7 771.3,380.7 771.3,385.7 772.4,385.6 772.4,380.3 772.4,385.6 772.7,385.6 772.7,377.9 772.7,385.6 773.3,385.6 773.3,368.3 773.3,385.6 774.2,385.6 774.2,377.8 774.2,385.6 774.2,385.6 774.2,368.3 774.2,385.6 775.2,385.7 775.2,374.2 775.2,385.7 775.6,385.8 775.6,379.8 775.6,385.8 777.1,385.9 777.1,382.4 777.1,385.9 778.5,385.8 778.5,382 778.5,385.8 779.9,385.6 779.9,379.7 779.9,385.6 781.3,385.2 781.3,147.4 781.3,385.2 781.4,385.2 781.4,376 781.4,385.2 782.3,385 782.3,125.7 782.3,385 782.5,385 782.5,125.7 782.5,385 782.8,385 782.8,377.2 782.8,385 783.5,385 783.5,288 783.5,385 784.3,385.2 784.3,376.9 784.3,385.2 785.7,385.4 785.7,381.7 785.7,385.4 787.1,385.3 787.1,382.2 787.1,385.3 788.6,385 788.6,383.2 788.6,385 790,385 790,381.3 790,385 791.5,385.2 791.5,375.5 791.5,385.2 792.5,385.2 792.5,360.1 792.5,385.2 792.9,385.2 792.9,369.9 792.9,385.2 793.4,385 793.4,347.7 793.4,385 794.3,384.7 794.3,367 794.3,384.7 794.4,384.7 794.4,347.7 794.4,384.7 795.3,384.5 795.3,369.9 795.3,384.5 795.8,384.5 795.8,373.6 795.8,384.5 797.2,384.7 797.2,378 797.2,384.7 798.7,384.9 798.7,376.5 798.7,384.9 800.1,384.7 800.1,371.6 800.1,384.7 800.8,384.6 800.8,359.3 800.8,384.6 801.5,384.4 801.5,371.8 801.5,384.4 801.8,384.4 801.8,343 801.8,384.4 802.7,384.4 802.7,343 802.7,384.4 803,384.4 803,369.1 803,384.4 803.6,384.5 803.6,371.8 803.6,384.5 804.4,384.6 804.4,370.7 804.4,384.6 805.9,384.5 805.9,377.2 805.9,384.5 807.3,384.2 807.3,380.4 807.3,384.2 808.7,384.3 808.7,379.8 808.7,384.3 810.2,384.4 810.2,376.1 810.2,384.4 811.2,384.2 811.2,344.4 811.2,384.2 811.6,384.1 811.6,373.2 811.6,384.1 812.2,384 812.2,318.2 812.2,384 812.4,383.9 812.4,318.2 812.4,383.9 813.1,383.8 813.1,375.2 813.1,383.8 813.4,383.8 813.4,334.7 813.4,383.8 814.5,383.8 814.5,379 814.5,383.8 815.9,384.1 815.9,380.8 815.9,384.1 817.4,384.1 817.4,379.8 817.4,384.1 817.8,384 817.8,372.6 817.8,384 818.8,383.7 818.8,366.1 818.8,383.7 818.8,383.7 818.8,375.8 818.8,383.7 819.7,383.5 819.7,366.1 819.7,383.5 820.3,383.5 820.3,378.8 820.3,383.5 820.6,383.5 820.6,376.4 820.6,383.5 821.7,383.7 821.7,379.3 821.7,383.7 822.8,383.7 822.8,375.5 822.8,383.7 823.1,383.7 823.1,378.1 823.1,383.7 823.8,383.6 823.8,368.6 823.8,383.6 824.6,383.3 824.6,376.1 824.6,383.3 824.7,383.2 824.7,368.6 824.7,383.2 825.6,382.9 825.6,378.4 825.6,382.9 826,382.8 826,377.7 826,382.8 827.5,382.9 827.5,379.5 827.5,382.9 828.9,383.3 828.9,376.9 828.9,383.3 829.5,383.4 829.5,237.8 829.5,383.4 830.3,383.4 830.3,374 830.3,383.4 830.5,383.4 830.5,224 830.5,383.4 830.7,383.3 830.7,224 830.7,383.3 831.7,383.1 831.7,345 831.7,383.1 831.8,383.1 831.8,374 831.8,383.1 833.2,382.8 833.2,376.6 833.2,382.8 834.7,382.6 834.7,379.8 834.7,382.6 836.1,382.5 836.1,377.8 836.1,382.5 837.5,382.4 837.5,374.8 837.5,382.4 838.7,382.3 838.7,369.4 838.7,382.3 839,382.3 839,373.5 839,382.3 839.6,382.3 839.6,340.2 839.6,382.3 840.4,382.3 840.4,366.1 840.4,382.3 840.6,382.3 840.6,340.2 840.6,382.3 841.5,382.3 841.5,357.4 841.5,382.3 841.9,382.3 841.9,371.3 841.9,382.3 843.3,382.4 843.3,377 843.3,382.4 844.7,382.3 844.7,378.3 844.7,382.3 846.2,382.1 846.2,373.4 846.2,382.1 847.3,381.7 847.3,334.1 847.3,381.7 847.6,381.7 847.6,369.7 847.6,381.7 848.3,381.5 848.3,328.5 848.3,381.5 848.5,381.5 848.5,328.5 848.5,381.5 849.1,381.4 849.1,367.3 849.1,381.4 849.5,381.4 849.5,355.8 849.5,381.4 850.5,381.5 850.5,373.9 850.5,381.5 851.9,381.7 851.9,376.1 851.9,381.7 853.4,381.6 853.4,379.5 853.4,381.6 854.8,381.5 854.8,379.8 854.8,381.5 856.3,381.4 856.3,377.2 856.3,381.4 857.7,381.3 857.7,374.1 857.7,381.3 858.4,381.2 858.4,350 858.4,381.2 859.1,381.1 859.1,374.1 859.1,381.1 859.4,381 859.4,258 859.4,381 859.6,381 859.6,258 859.6,381 860.6,380.8 860.6,271 860.6,380.8 860.6,380.8 860.6,373.2 860.6,380.8 862,380.8 862,376.6 862,380.8 863.5,380.8 863.5,377.9 863.5,380.8 864.9,380.7 864.9,376.1 864.9,380.7 866.3,380.6 866.3,374.6 866.3,380.6 866.6,380.6 866.6,359.3 866.6,380.6 867.5,380.6 867.5,346.9 867.5,380.6 867.8,380.7 867.8,369.5 867.8,380.7 868.5,380.7 868.5,346.9 868.5,380.7 869.2,380.7 869.2,373.7 869.2,380.7 869.4,380.7 869.4,368.7 869.4,380.7 870.7,380.4 870.7,376 870.7,380.4 872.1,379.9 872.1,376.2 872.1,379.9 873.5,379.9 873.5,378.2 873.5,379.9 875,380.3 875,375.6 875,380.3 876.4,380.3 876.4,372.1 876.4,380.3 876.5,380.2 876.5,322.6 876.5,380.2 877.5,379.9 877.5,311.5 877.5,379.9 877.7,379.8 877.7,311.5 877.7,379.8 877.9,379.7 877.9,373 877.9,379.7 878.7,379.5 878.7,355.4 878.7,379.5 879.3,379.4 879.3,375.7 879.3,379.4 880.7,379.7 880.7,375.4 880.7,379.7 882.2,379.9 882.2,375.1 882.2,379.9 883,379.8 883,374.6 883,379.8 883.6,379.7 883.6,373.2 883.6,379.7 883.9,379.6 883.9,361.1 883.9,379.6 884.9,379.3 884.9,361.1 884.9,379.3 885.1,379.2 885.1,374.8 885.1,379.2 885.8,379.2 885.8,368.7 885.8,379.2 886.5,379.2 886.5,376 886.5,379.2 887.9,379.4 887.9,377.1 887.9,379.4 889.4,379.2 889.4,377.2 889.4,379.2 890.8,378.8 890.8,377 890.8,378.8 892.3,378.7 892.3,377.1 892.3,378.7 893.7,378.8 893.7,375.6 893.7,378.8 895.1,378.9 895.1,373.4 895.1,378.9 895.8,378.8 895.8,352 895.8,378.8 896.6,378.8 896.6,370.8 896.6,378.8 896.8,378.8 896.8,271.1 896.8,378.8 897,378.7 897,271.1 897,378.7 898,378.7 898,292.7 898,378.7 898,378.7 898,373.6 898,378.7 899.5,378.6 899.5,375.6 899.5,378.6 900.9,378.4 900.9,376.5 900.9,378.4 902.3,378 902.3,376.6 902.3,378 903.8,377.9 903.8,376.3 903.8,377.9 905.2,378 905.2,373.8 905.2,378 906.7,378.2 906.7,373.7 906.7,378.2 906.7,378.2 906.7,370.5 906.7,378.2 907.6,378.1 907.6,355.6 907.6,378.1 908.1,378 908.1,370.4 908.1,378 908.6,378 908.6,355.6 908.6,378 909.5,377.8 909.5,364.1 909.5,377.8 909.5,377.8 909.5,372.1 909.5,377.8 911,377.8 911,374.4 911,377.8 912.4,377.7 912.4,374.2 912.4,377.7 913.4,377.6 913.4,369.6 913.4,377.6 913.9,377.5 913.9,372.2 913.9,377.5 914.3,377.4 914.3,357.4 914.3,377.4 915.2,377.2 915.2,357.4 915.2,377.2 915.3,377.2 915.3,372.9 915.3,377.2 916.2,377.1 916.2,365 916.2,377.1 916.7,377.1 916.7,374.4 916.7,377.1 918.2,377.2 918.2,375.3 918.2,377.2 919.6,377.3 919.6,376.4 919.6,377.3 921.1,377.3 921.1,375.4 921.1,377.3 922.5,377.1 922.5,374.8 922.5,377.1 923.9,376.8 923.9,371.6 923.9,376.8 924.6,376.7 924.6,311.1 924.6,376.7 925.4,376.6 925.4,369.6 925.4,376.6 925.6,376.5 925.6,258 925.6,376.5 925.8,376.5 925.8,258 925.8,376.5 926.8,376.5 926.8,292.7 926.8,376.5 926.8,376.5 926.8,372.8 926.8,376.5 928.3,376.6 928.3,373.2 928.3,376.6 929.7,376.5 929.7,374.2 929.7,376.5 931.1,376.3 931.1,374.7 931.1,376.3 932.3,376.2 932.3,371.6 932.3,376.2 932.6,376.3 932.6,373.8 932.6,376.3 933.2,376.3 933.2,367.8 933.2,376.3 934,376.4 934,374.3 934,376.4 934.2,376.4 934.2,367.8 934.2,376.4 935.1,376.4 935.1,373.9 935.1,376.4 935.5,376.3 935.5,374.1 935.5,376.3 936.5,376.1 936.5,371.5 936.5,376.1 936.9,376 936.9,374.2 936.9,376 937.4,375.8 937.4,369 937.4,375.8 938.3,375.7 938.3,374.5 938.3,375.7 938.4,375.7 938.4,369 938.4,375.7 939.3,375.7 939.3,373.8 939.3,375.7 939.8,375.7 939.8,374.6 939.8,375.7 941.2,375.8 941.2,374.1 941.2,375.8 942.7,375.7 942.7,371.3 942.7,375.7 943.8,375.5 943.8,340.8 943.8,375.5 944.1,375.4 944.1,370.8 944.1,375.4 944.8,375.4 944.8,313.7 944.8,375.4 945,375.4 945,313.7 945,375.4 945.5,375.4 945.5,370 945.5,375.4 946,375.4 946,331.9 946,375.4 947,375.4 947,371.2 947,375.4 948.4,375.2 948.4,373 948.4,375.2 949.9,375 949.9,374.2 949.9,375 951.3,375 951.3,373.1 951.3,375 952.7,375 952.7,366.3 952.7,375 952.7,375 952.7,371.6 952.7,375 953.6,374.9 953.6,361.1 953.6,374.9 954.2,374.8 954.2,370.7 954.2,374.8 954.6,374.7 954.6,361.1 954.6,374.7 955.5,374.6 955.5,369.5 955.5,374.6 955.6,374.6 955.6,372.9 955.6,374.6 957.1,374.5 957.1,372.6 957.1,374.5 958.5,374.5 958.5,371.7 958.5,374.5 959.9,374.4 959.9,368.6 959.9,374.4 960.8,374.3 960.8,352.3 960.8,374.3 961.4,374.2 961.4,367.4 961.4,374.2 961.8,374.2 961.8,340.2 961.8,374.2 962.7,374.1 962.7,340.2 962.7,374.1 962.8,374.1 962.8,365.5 962.8,374.1 963.6,374.1 963.6,360.3 963.6,374.1 964.3,374.1 964.3,367.6 964.3,374.1 965.7,374.1 965.7,371.5 965.7,374.1 967.1,373.9 967.1,372.9 967.1,373.9 968.6,373.6 968.6,373.2 968.6,373.6 970,373.5 970,372.7 970,373.5 971.5,373.6 971.5,372 971.5,373.6 972.9,373.6 972.9,371.1 972.9,373.6 973.3,373.5 973.3,365.5 973.3,373.5 974.2,373.4 974.2,359.5 974.2,373.4 974.3,373.4 974.3,370.6 974.3,373.4 975.2,373.3 975.2,359.5 975.2,373.3 975.8,373.3 975.8,370.1 975.8,373.3 976.1,373.3 976.1,368.1 976.1,373.3 977.2,373.2 977.2,371 977.2,373.2 978.7,373.1 978.7,372.2 978.7,373.1 980.1,373 980.1,371.3 980.1,373 981.4,372.8 981.4,367.5 981.4,372.8 981.5,372.8 981.5,369.9 981.5,372.8 982.3,372.8 982.3,358.3 982.3,372.8 983,372.7 983,369.9 983,372.7 983.2,372.7 983.2,358.3 983.2,372.7 984.2,372.7 984.2,364.3 984.2,372.7 984.4,372.7 984.4,370.1 984.4,372.7 985.9,372.6 985.9,371 985.9,372.6 987.3,372.6 987.3,371.8 987.3,372.6 988.7,372.5 988.7,369 988.7,372.5 990.2,372.3 990.2,366.8 990.2,372.3 991.3,372.2 991.3,345.1 991.3,372.2 991.6,372.2 991.6,365.7 991.6,372.2 992.3,372.1 992.3,320.4 992.3,372.1 992.5,372.1 992.5,320.4 992.5,372.1 993.1,372.1 993.1,364.9 993.1,372.1 993.5,372.1 993.5,335.2 993.5,372.1 994.5,372 994.5,367.3 994.5,372 995.9,372 995.9,369.6 995.9,372 997.4,371.9 997.4,371.1 997.4,371.9 998.8,371.9 998.8,370.9 998.8,371.9 1000.3,371.9 1000.3,371.3 1000.3,371.9 1001.7,371.8 1001.7,366.4 1001.7,371.8 1001.7,371.8 1001.7,370.9 1001.7,371.8 1002.6,371.8 1002.6,363.5 1002.6,371.8 1003.1,371.8 1003.1,370.7 1003.1,371.8 1003.6,371.8 1003.6,363.5 1003.6,371.8 1004.5,371.7 1004.5,368.3 1004.5,371.7 1004.6,371.7 1004.6,370.9 1004.6,371.7 1006,371.7 1006,370.8 1006,371.7 1007.5,371.7 1007.5,370.8 1007.5,371.7 1008.9,371.6 1008.9,369.4 1008.9,371.6 1009.7,371.6 1009.7,366.1 1009.7,371.6 1010.3,371.6 1010.3,368.9 1010.3,371.6 1010.6,371.6 1010.6,352.7 1010.6,371.6 1011.6,371.6 1011.6,352.7 1011.6,371.6 1011.8,371.6 1011.8,369.6 1011.8,371.6 1012.5,371.5 1012.5,359.8 1012.5,371.5 1013.2,371.5 1013.2,370.2 1013.2,371.5 1014.7,371.5 1014.7,370.5 1014.7,371.5 1016.1,371.1 1017.5,371.4 1017.5,370.8 1017.5,371.4 1019,371.4 1019,370.8 1019,371.4 1019.2,371.4 1019.2,370.4 1019.2,371.4 1020.1,371.3 1020.1,369.1 1020.1,371.3 1020.4,371.3 1020.4,370.8 1020.4,371.3 1021.1,371.3 1021.1,369.1 1021.1,371.3 1021.9,371.3 1021.9,370.7 1021.9,371.3 1022,371.3 1022,369.8 1022,371.3 1023.3,371.2 1023.3,370.7 1023.3,371.2 1024.7,371.2 1024.7,370.7 1024.7,371.2 1026.2,371.2 1026.2,370.7 1026.2,371.2 1027.5,371.1 1027.5,370.3 1027.5,371.1 1027.6,371.1 1027.6,370.6 1027.6,371.1 1028.5,371.1 1028.5,369.4 1028.5,371.1 1029.1,371.1 1029.1,370.5 1029.1,371.1 1029.4,371.1 1029.4,369.4 1029.4,371.1 1030.3,371.1 1030.3,370.1 1030.3,371.1 1030.5,371.1 1030.5,370.5 1030.5,371.1 1031.9,371 1031.9,370.5 1031.9,371 1033.4,371 1033.4,370.6 1033.4,371 1034.8,370.6 1036.3,370.9 1036.3,370.4 1036.3,370.9 1037.7,370.9 1037.7,370.3 1037.7,370.9 1039.1,370.8 1039.1,370.3 1039.1,370.8 1039.3,370.8 1039.3,369.3 1039.3,370.8 1040.2,370.8 1040.2,366.8 1040.2,370.8 1040.6,370.8 1040.6,370 1040.6,370.8 1041.2,370.8 1041.2,366.8 1041.2,370.8 1042,370.7 1042,370.1 1042,370.7 1042.1,370.7 1042.1,367.2 1042.1,370.7" fill="none" stroke="#eb7131" stroke-width="4.4" stroke-linejoin="round" stroke-linecap="round"/>
<line x1="439.4" y1="465.6" x2="478.0" y2="465.6" stroke="#eb7131" stroke-width="4.4" stroke-linecap="round"/>
<text transform="translate(481.95 470.8) scale(1 0.89)" x="0" y="0" font-family="'Liberation Sans', Arial, sans-serif" font-size="18.07" word-spacing="-0.8" fill="#595959">Delta after black hole</text>
</svg>
</body>
</html>
